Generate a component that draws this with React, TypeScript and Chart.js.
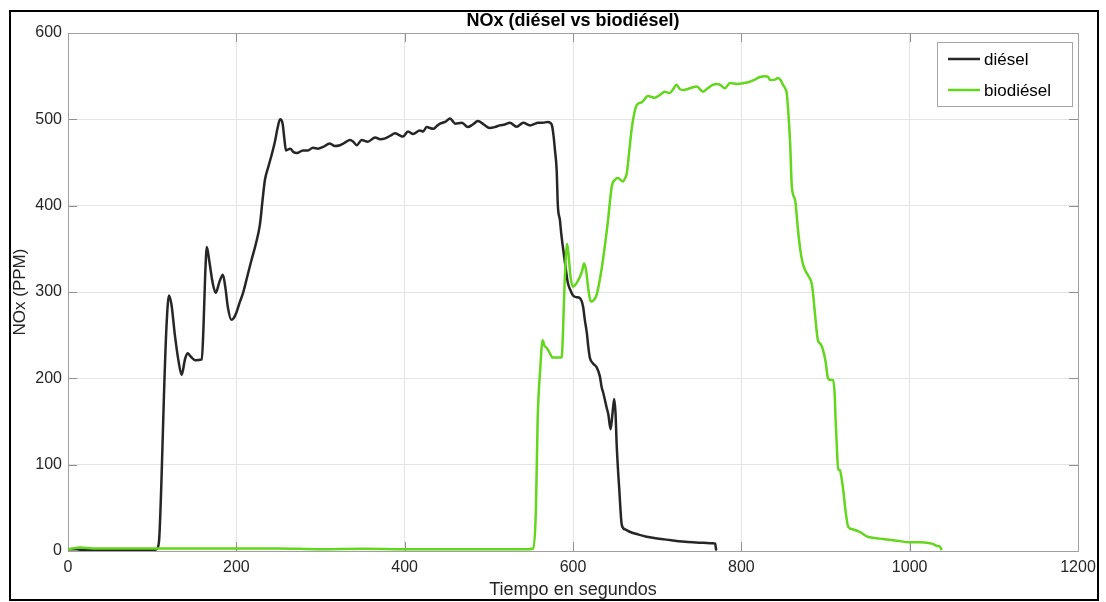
import React, { useEffect, useRef } from 'react';
import { Chart, registerables } from 'chart.js';
Chart.register(...registerables);

const FONT = "'Liberation Sans', Arial, sans-serif";

const chartTitle = 'NOx (diésel vs biodiésel)';
const xAxisTitle = 'Tiempo en segundos';
const yAxisTitle = 'NOx (PPM)';

const dieselT = [0, 10, 20, 40, 60, 80, 100, 105, 108, 111, 114, 117, 120, 123, 127, 131, 135, 139, 142, 146, 151, 159, 161, 163, 165, 168, 172, 175.5, 180, 184, 187, 190, 194, 197, 200, 204, 208, 213, 218, 223, 228, 231, 234, 238, 242, 246, 249, 252, 255, 257, 259, 264, 268, 272, 279, 285, 291, 297, 303, 311, 317, 323, 329, 335, 339, 343, 349, 356, 365, 371, 377, 383, 388.5, 393, 398, 404, 410, 418, 422, 426, 434, 438, 442, 448, 454, 457, 460, 468, 475, 481, 487, 494, 501, 507, 513, 519, 525, 533, 541, 549, 555, 558, 564, 570, 573, 575, 577, 578.6, 580.6, 582, 584.5, 586, 588, 591, 594, 597, 600, 604, 608, 612, 614, 616.5, 618, 620, 624, 628, 632, 634, 636, 640, 642, 644.6, 647, 649, 650.5, 652, 655, 658, 662, 668, 678, 687.5, 700, 715, 730, 742.6, 755, 766, 769, 770, 771];
const dieselV = [2, 2, 1, 1, 1, 1, 1, 2, 10, 80, 180, 260, 296, 285, 250, 222, 204, 222, 229, 225, 221, 222, 260, 320, 352, 335, 310, 299, 312, 320, 305, 282, 268, 270, 276, 288, 299, 318, 337, 355, 378, 405, 430, 445, 459, 475, 490, 500, 495, 478, 464, 466, 462, 461, 464, 464, 467, 466, 468, 472, 469, 470, 473, 476, 474, 470, 476, 474, 479, 477, 478, 481, 484, 482, 480, 486, 483, 487, 486, 491, 489, 492, 495, 497, 501, 498, 495, 496, 491, 494, 498, 494, 490, 491, 493, 494, 496, 491.5, 496, 493, 495, 496, 496, 497, 496, 493, 480, 464, 441, 400, 383, 368, 352, 330, 310, 302, 296, 294, 293, 283, 268, 252, 238, 224, 217, 213, 202, 190, 183, 166, 158, 141, 160, 176, 160, 121, 71, 30, 25, 22, 19, 16.6, 14.5, 12.7, 11, 10, 9.5, 9, 8.5, 2, 1];

const bioT = [0, 15, 30, 55, 80, 100, 150, 200, 250, 300, 350, 400, 450, 500, 540, 553, 556, 558, 561, 564, 566, 569, 572, 576, 581, 586.5, 588, 590, 593, 595, 597, 600, 604, 608, 611, 613, 614.5, 616, 618, 621, 624, 628, 632, 636, 641.6, 646, 650, 653.5, 659, 662, 664, 667, 670, 673, 676, 682, 689, 693, 697, 703, 709, 715, 719, 723, 727, 731, 739, 747, 754.5, 760, 766, 772, 776, 780.5, 786.5, 795, 803, 810, 816, 822, 828, 832, 834, 840, 843.5, 847, 849.5, 852, 854, 856, 858, 860, 864, 867, 870, 873, 876, 880, 884, 887, 891, 894, 897, 900, 903, 906, 909, 911, 912, 913.5, 915, 917, 919, 921, 924, 927, 933, 941, 949, 958, 968, 985, 1000, 1012, 1024, 1028, 1032, 1036, 1038];
const bioV = [2, 4, 3, 3, 3, 3, 3, 3, 3, 2, 2.5, 2, 2, 2, 2, 3, 50, 152, 210, 244, 238, 235, 230, 224, 224, 224, 250, 310, 356, 340, 318, 306, 310, 317, 325, 333, 330, 322, 305, 289, 290, 296.5, 315, 340, 383, 422, 430, 432, 428, 432, 438, 465, 491, 508, 517, 520, 527, 526, 525, 528, 532, 530.5, 535, 540, 535, 534, 536, 538, 532, 536, 540, 541, 539, 536, 542, 541, 542, 543.6, 546, 549, 550, 549, 545.6, 546, 548, 545, 540, 536, 530, 505, 472, 422, 406, 375, 349, 333, 325, 318, 308, 280, 244, 240, 233, 220, 200, 198, 198, 180, 152, 120, 94, 94, 85, 71, 45, 28, 25, 22, 17, 15, 14, 12, 10, 10, 9, 8, 6, 5, 1];

const xTicks = [0, 200, 400, 600, 800, 1000, 1200];
const yTicks = [0, 100, 200, 300, 400, 500, 600];
const seriesLabels = ['diésel', 'biodiésel'];
const seriesColors = ['#262626', '#63d61e'];

const boxPlugin = {
  id: 'matlabBox',
  beforeDatasetsDraw(chart: any) {
    const { ctx, chartArea: a, scales } = chart;
    ctx.save();
    ctx.strokeStyle = '#8f8f8f';
    ctx.lineWidth = 1;
    ctx.beginPath();
    const tl = 9;
    xTicks.forEach((v) => {
      const px = Math.round(scales.x.getPixelForValue(v)) + 0.5;
      ctx.moveTo(px, a.bottom);
      ctx.lineTo(px, a.bottom - tl);
      ctx.moveTo(px, a.top);
      ctx.lineTo(px, a.top + tl);
    });
    yTicks.forEach((v) => {
      const py = Math.round(scales.y.getPixelForValue(v)) + 0.5;
      ctx.moveTo(a.left, py);
      ctx.lineTo(a.left + tl, py);
      ctx.moveTo(a.right, py);
      ctx.lineTo(a.right - tl, py);
    });
    ctx.stroke();
    ctx.strokeStyle = '#a0a0a0';
    ctx.strokeRect(Math.round(a.left) + 0.5, Math.round(a.top) + 0.5, Math.round(a.right - a.left), Math.round(a.bottom - a.top));
    ctx.restore();
  },
  afterDraw(chart: any) {
    const { ctx, chartArea: a } = chart;
    ctx.save();
    ctx.font = `bold 18px ${FONT}`;
    ctx.fillStyle = '#000000';
    ctx.textAlign = 'center';
    ctx.textBaseline = 'middle';
    ctx.fillText(chartTitle, (a.left + a.right) / 2, 21);
    ctx.restore();
  },
};

const legendPlugin = {
  id: 'matlabLegend',
  afterDatasetsDraw(chart: any) {
    const { ctx } = chart;
    ctx.save();
    const bx = 937.5, by = 42.5, bw = 135, bh = 64;
    ctx.fillStyle = '#ffffff';
    ctx.fillRect(bx, by, bw, bh);
    ctx.strokeStyle = '#a6a6a6';
    ctx.lineWidth = 1;
    ctx.strokeRect(bx, by, bw, bh);
    const rows = [59, 90];
    ctx.font = `17px ${FONT}`;
    ctx.textBaseline = 'middle';
    ctx.textAlign = 'left';
    seriesLabels.forEach((lab, i) => {
      ctx.strokeStyle = seriesColors[i];
      ctx.lineWidth = 2.5;
      ctx.beginPath();
      ctx.moveTo(948, rows[i]);
      ctx.lineTo(980, rows[i]);
      ctx.stroke();
      ctx.fillStyle = '#000000';
      ctx.fillText(lab, 984, rows[i] + 1);
    });
    ctx.restore();
  },
};

export default function App() {
  const ref = useRef<HTMLCanvasElement>(null);
  useEffect(() => {
    const canvas = ref.current!;
    const mk = (ts: number[], vs: number[]) => ts.map((t, i) => ({ x: t, y: vs[i] }));
    const chart = new Chart(canvas, {
      type: 'line',
      data: {
        datasets: [
          {
            label: seriesLabels[0],
            data: mk(dieselT, dieselV),
            borderColor: seriesColors[0],
            borderWidth: 2.5,
            pointRadius: 0,
            fill: false,
            order: 1,
            cubicInterpolationMode: 'monotone',
          },
          {
            label: seriesLabels[1],
            data: mk(bioT, bioV),
            borderColor: seriesColors[1],
            borderWidth: 2.5,
            pointRadius: 0,
            fill: false,
            order: 0,
            cubicInterpolationMode: 'monotone',
          },
        ],
      } as any,
      options: {
        responsive: false,
        animation: false,
        devicePixelRatio: 1,
        layout: { padding: { left: 0, right: 28, top: 33, bottom: 0 } },
        plugins: {
          legend: { display: false },
          tooltip: { enabled: false },
          title: { display: false },
        },
        scales: {
          x: {
            type: 'linear',
            min: 0,
            max: 1200,
            afterBuildTicks: (s: any) => {
              s.ticks = xTicks.map((v) => ({ value: v }));
            },
            afterFit: (s: any) => {
              s.height = 51;
            },
            ticks: {
              color: '#262626',
              font: { family: FONT, size: 16 },
              padding: 7,
              maxRotation: 0,
              callback: (v: any) => String(v),
            },
            grid: { color: '#e4e4e4', drawTicks: false, lineWidth: 1 },
            border: { display: false },
            title: {
              display: true,
              text: xAxisTitle,
              color: '#262626',
              font: { family: FONT, size: 18 },
              padding: { top: 0, bottom: 1 },
            },
          },
          y: {
            type: 'linear',
            min: 0,
            max: 600,
            afterBuildTicks: (s: any) => {
              s.ticks = yTicks.map((v) => ({ value: v }));
            },
            afterFit: (s: any) => {
              s.width = 68;
            },
            ticks: {
              color: '#262626',
              font: { family: FONT, size: 16 },
              padding: 6,
              callback: (v: any) => String(v),
            },
            grid: { color: '#e4e4e4', drawTicks: false, lineWidth: 1 },
            border: { display: false },
            title: {
              display: true,
              text: yAxisTitle,
              color: '#262626',
              font: { family: FONT, size: 17 },
              padding: { top: 10, bottom: 0 },
            },
          },
        },
      } as any,
      plugins: [boxPlugin, legendPlugin],
    });
    return () => chart.destroy();
  }, []);
  return (
    <div style={{ position: 'absolute', left: 0, top: 0, width: 1106, height: 602, background: '#ffffff', overflow: 'hidden' }}>
      <canvas ref={ref} width={1106} height={602} style={{ display: 'block' }} />
      <div
        style={{
          position: 'absolute',
          left: 9,
          top: 10,
          width: 1090,
          height: 591,
          border: '2px solid #000',
          boxSizing: 'border-box',
          pointerEvents: 'none',
        }}
      />
    </div>
  );
}
